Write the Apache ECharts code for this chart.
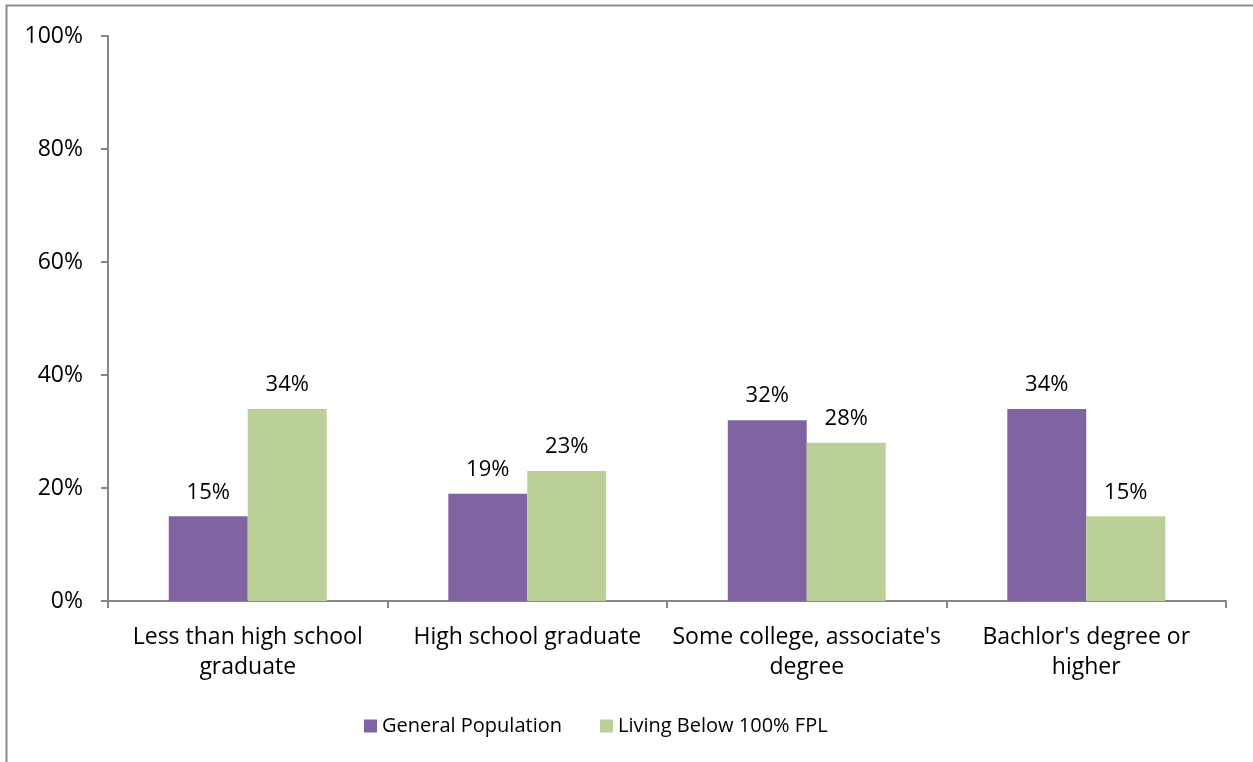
<!DOCTYPE html>
<html><head><meta charset="utf-8">
<script src="https://cdn.jsdelivr.net/npm/echarts@6/dist/echarts.min.js"></script>
<style>html,body{margin:0;padding:0;background:#fff}#c{width:1253px;height:762px}</style>
</head><body><div id="c"></div>
<script>
const categories = ["Less than high school graduate","High school graduate","Some college, associate's degree","Bachlor's degree or higher"];
const tickLabels = ["Less than high school\ngraduate","High school graduate","Some college, associate's\ndegree","Bachlor's degree or\nhigher"];
const seriesNames = ["General Population","Living Below 100% FPL"];
const generalPopulation = [15,19,32,34];
const belowFPL = [34,23,28,15];
const yTicks = [0,20,40,60,80,100];

const FONT = 'Open Sans';
const chart = echarts.init(document.getElementById('c'), null, {renderer:'canvas'});
const lbl = {show:true, position:'top', distance:13, formatter:p=>p.value+'%', color:'#000', fontFamily:FONT, fontSize:22};
chart.setOption({
  animation:false,
  textStyle:{fontFamily:FONT},
  graphic:[{type:'rect', shape:{x:6.5,y:5.5,width:1400,height:900}, style:{fill:'none', stroke:'#8c8c8c', lineWidth:2}, silent:true, z:-1}],
  grid:{left:108, right:27, top:36, bottom:161, containLabel:false},
  legend:{bottom:21, left:359, itemWidth:13, itemHeight:13, itemGap:38, icon:'rect',
    textStyle:{fontFamily:FONT, fontSize:20, color:'#000'}, data:seriesNames},
  xAxis:{type:'category', data:categories,
    axisLine:{lineStyle:{color:'#868686', width:2}},
    axisTick:{show:true, length:7, alignWithLabel:false, lineStyle:{color:'#868686', width:2}},
    axisLabel:{interval:0, margin:21, color:'#000', fontFamily:FONT, fontSize:23, lineHeight:30,
      formatter:(v,i)=>tickLabels[i]}},
  yAxis:{type:'value', min:yTicks[0], max:yTicks[yTicks.length-1], interval:20,
    axisLine:{show:true, lineStyle:{color:'#868686', width:2}},
    axisTick:{show:true, length:7, lineStyle:{color:'#868686', width:2}},
    splitLine:{show:false},
    axisLabel:{margin:25, color:'#000', fontFamily:FONT, fontSize:23, formatter:v=>v+'%'}},
  series:[
    {name:seriesNames[0], type:'bar', data:generalPopulation, barGap:'0%', barCategoryGap:'43.5%', itemStyle:{color:'#8064A2'}, label:lbl},
    {name:seriesNames[1], type:'bar', data:belowFPL, barGap:'0%', barCategoryGap:'43.5%', itemStyle:{color:'#BBCF98'}, label:lbl}
  ]
});
</script></body></html>
